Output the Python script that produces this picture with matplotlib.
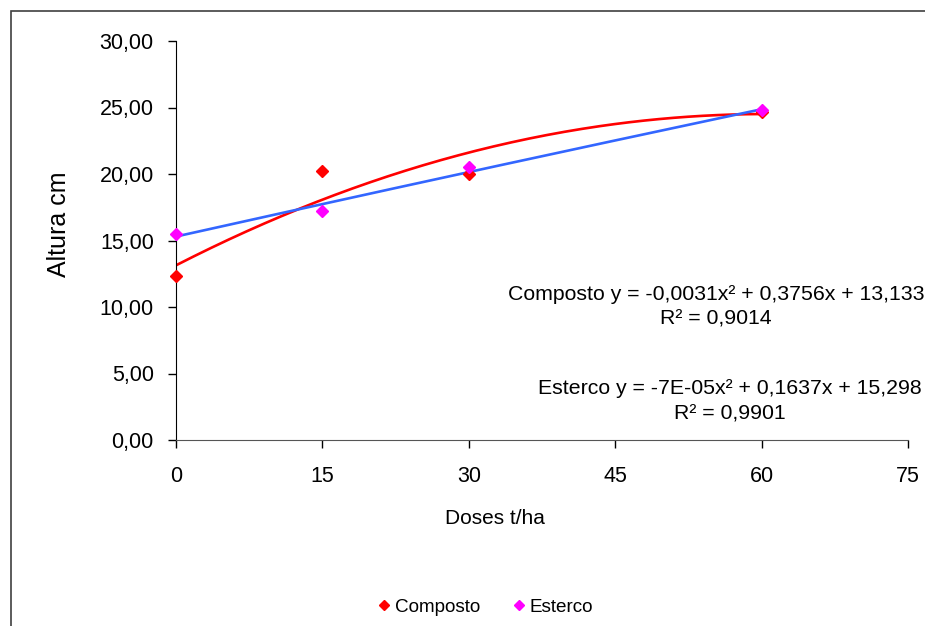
import matplotlib
matplotlib.use("Agg")
import matplotlib.pyplot as plt
from matplotlib.ticker import FuncFormatter, MultipleLocator
from matplotlib.patches import Rectangle
import numpy as np

doses = [0, 15, 30, 60]
composto = [12.3, 20.2, 20.0, 24.65]
esterco = [15.5, 17.2, 20.55, 24.8]

# trendline coefficients as printed on the chart (a, b, c)
coef_composto = [-0.0031, 0.3756, 13.133]
coef_esterco = [-7e-05, 0.1637, 15.298]
r2_composto = "0,9014"
r2_esterco = "0,9901"

plt.rcParams['font.family'] = ['Liberation Sans', 'DejaVu Sans']

fig = plt.figure(figsize=(9.25, 6.26), dpi=100)
fig.patches.append(Rectangle((11 / 925, -0.1), 1.2, 1 - 11 / 626 + 0.1,
                             transform=fig.transFigure, fill=False,
                             edgecolor='#404040', linewidth=1.2))

ax = fig.add_axes([176 / 925, 1 - 440 / 626, 732 / 925, 399 / 626])

xs = np.linspace(0, 60, 200)
ax.plot(xs, np.polyval(coef_composto, xs), color='#ff0000', lw=1.9, zorder=2)
ax.plot(xs, np.polyval(coef_esterco, xs), color='#3366ff', lw=1.9, zorder=2)
ax.plot(doses, composto, 'D', color='#ff0000', ms=6, ls='none', label='Composto', zorder=3, clip_on=False)
ax.plot(doses, esterco, 'D', color='#ff00ff', ms=6, ls='none', label='Esterco', zorder=3, clip_on=False)

ax.set_xlim(0, 75)
ax.set_ylim(0, 30)
ax.xaxis.set_major_locator(MultipleLocator(15))
ax.yaxis.set_major_locator(MultipleLocator(5))
ax.yaxis.set_major_formatter(FuncFormatter(lambda v, p: f"{v:.2f}".replace('.', ',')))
ax.xaxis.set_major_formatter(FuncFormatter(lambda v, p: f"{int(v)}"))
ax.tick_params(axis='both', labelsize=15.5, direction='out', length=6, width=1, colors='black', pad=10)
ax.tick_params(axis='x', pad=13)

for s in ['top', 'right']:
    ax.spines[s].set_visible(False)
ax.spines['left'].set_color('black')
ax.spines['bottom'].set_color('#555555')

ax.set_ylabel("Altura cm", fontsize=18, va='center')
ax.yaxis.set_label_coords((59 - 176) / 732, (440 - 224.5) / 399)
ax.set_xlabel("Doses t/ha", fontsize=15, va='center')
ax.xaxis.set_label_coords((495 - 176) / 732, (440 - 519) / 399)

fig.text(716 / 925, 1 - 306.5 / 626,
         f"Composto y = -0,0031x² + 0,3756x + 13,133\nR² = {r2_composto}",
         ha='center', va='center', fontsize=15.3, linespacing=1.4)
fig.text(730 / 925, 1 - 401 / 626,
         f"Esterco y = -7E-05x² + 0,1637x + 15,298\nR² = {r2_esterco}",
         ha='center', va='center', fontsize=15.3, linespacing=1.4)

fig.legend(loc='center', bbox_to_anchor=(484 / 925, 1 - 607 / 626), ncol=2,
           frameon=False, fontsize=13.6, handletextpad=0.05, columnspacing=1.6,
           handlelength=1.0, markerscale=0.9)

fig.savefig("out.png", dpi=100)
